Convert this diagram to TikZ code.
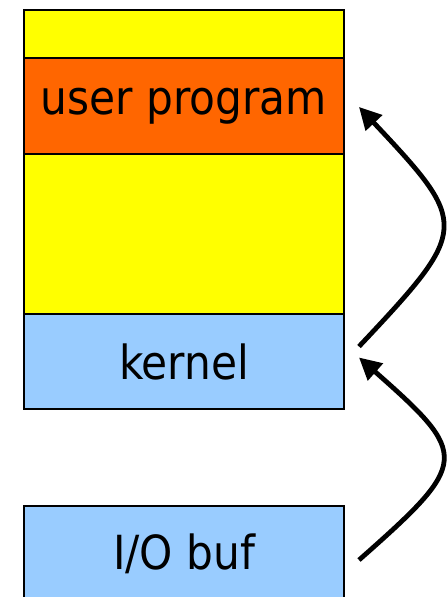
\documentclass[tikz,border=0pt]{standalone}
\usepackage{fontspec}
\setmainfont{DejaVu Sans Condensed}
\usetikzlibrary{arrows.meta}
\definecolor{memyellow}{HTML}{FFFF00}
\definecolor{memorange}{HTML}{FF6600}
\definecolor{memblue}{HTML}{99CCFF}
\tikzset{
  seg/.style={draw=black, line width=2pt, rectangle, minimum width=320pt, inner sep=0pt, anchor=north west,
    font=\fontsize{47}{50}\selectfont, text=black},
  flow/.style={line width=4.8pt, -{Triangle[length=22pt,width=22pt]}},
}
\begin{document}
\begin{tikzpicture}[x=1pt,y=-1pt]
\useasboundingbox[fill=white] (0,0) rectangle (447,597);
\node[seg, fill=memyellow, minimum height=48pt] (top) at (23,9) {};
\node[seg, fill=memorange, minimum height=96pt] (user) at (23,57) {user program};
\node[seg, fill=memyellow, minimum height=160pt] (free) at (23,153) {};
\node[seg, fill=memblue, minimum height=95pt] (kernel) at (23,313) {kernel};
\node[seg, fill=memblue, minimum height=96pt] (iobuf) at (23,505) {I/O buf};
\draw[flow] ([xshift=14pt,yshift=15pt]kernel.east) .. controls +(111,-118) and +(111,118) .. ([xshift=14pt,yshift=-1pt]user.east);
\draw[flow] ([xshift=14pt,yshift=-6pt]iobuf.east) .. controls +(111,-98) and +(111,98) .. ([xshift=14pt,yshift=4pt]kernel.east);
\end{tikzpicture}
\end{document}
